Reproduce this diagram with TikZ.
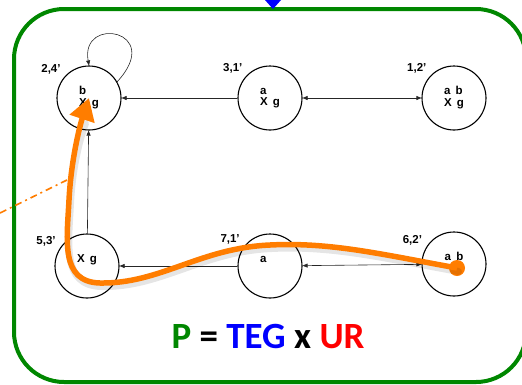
\documentclass[tikz,border=0pt]{standalone}
\usepackage{fontspec}
\setmainfont{Liberation Sans}
\newfontfamily\bigfont{Carlito}
\usetikzlibrary{arrows.meta,positioning}
\definecolor{frameC}{RGB}{0,135,0}
\definecolor{orangeC}{RGB}{255,125,0}
\newcommand{\st}[2]{\begin{tabular}{@{}l@{}}#1\\#2\end{tabular}}
\newcommand{\gap}{\hspace{0.45em}}
\begin{document}
\begin{tikzpicture}[
  state/.style={circle,draw,line width=1.1pt,minimum size=64pt,inner sep=0pt,
    font=\bfseries\fontsize{11.5}{11}\selectfont},
  lbl/.style={font=\bfseries\fontsize{11.5}{12}\selectfont,inner sep=1pt,label distance=3pt},
  tr/.style={draw=black!85,line width=0.6pt},
  >={Triangle[length=5pt,width=4pt]}, x=1pt, y=1pt]
  \useasboundingbox (0,0) rectangle (522,-384);
  % frame
  \draw[frameC,line width=4pt,rounded corners=50pt] (14,-9) rectangle (526,-382);
  \fill[blue] (265,0) -- (281,0) -- (273,-9) -- cycle;
  % states
  \node[state,label={[lbl]140:2,4’}] (s24) at (89,-98)  {\st{b}{X\gap g}};
  \node[state,label={[lbl]138:3,1’}] (s31) at (270,-98) {\st{a}{X\gap g}};
  \node[state,label={[lbl]138:1,2’}] (s12) at (454,-98) {\st{a\gap b}{X\gap g}};
  \node[state,label={[lbl]148:5,3’}] (s53) at (87,-266) {\st{X\gap g}{\phantom{X}}};
  \node[state,label={[lbl]145:7,1’}] (s71) at (270,-266){\st{a}{\phantom{X\gap g}}};
  \node[state,label={[lbl]150:6,2’}] (s62) at (454,-264){\st{a\gap b}{\phantom{X}}};
  % transitions
  \draw[tr,->] (s31) -- (s24);
  \draw[tr,<->] (s31) -- (s12);
  \draw[tr,->] (s53) -- (s24);
  \draw[tr,->] (s71) -- (s53);
  \draw[tr,<->] (s71) -- (s62);
  \draw[tr,->] (s24.30) .. controls (165,-30) and (80,-15) .. (s24.north);
  % path through the product
  \node[circle,fill=orangeC,minimum size=16pt,inner sep=0pt] (dot) at (457,-268) {};
  \draw[black,opacity=0.1,line width=7pt,line cap=round,transform canvas={xshift=1.5pt,yshift=-3.5pt}]
    (dot.center) .. controls (380,-254) and (330,-242) .. (270,-245)
    .. controls (200,-248) and (160,-284) .. (100,-283)
    .. controls (60,-282) and (67,-240) .. (69,-200)
    .. controls (71,-160) and (80,-130) .. (84,-120);
  \draw[orangeC,line width=5.5pt,-{Triangle[length=22pt,width=25pt]}]
    (dot.center) .. controls (380,-254) and (330,-242) .. (270,-245)
    .. controls (200,-248) and (160,-284) .. (100,-283)
    .. controls (60,-282) and (67,-240) .. (69,-200)
    .. controls (71,-160) and (80,-125) .. (s24.center);
  \coordinate (ddA) at (0,-213);
  \coordinate (ddB) at (67,-180);
  \draw[orangeC,line width=1.6pt,dash pattern=on 7pt off 4pt on 2pt off 4pt] (ddA) -- (ddB);
  % caption
  \node[font=\bigfont\bfseries\fontsize{37}{40}\selectfont] (eq) at (268,-336)
    {\textcolor{frameC}{P} = \textcolor{blue}{TEG} x \textcolor{red}{UR}};
\end{tikzpicture}
\end{document}
